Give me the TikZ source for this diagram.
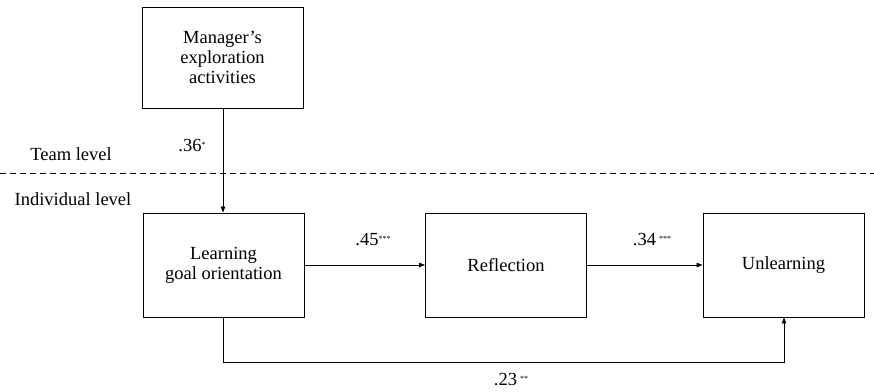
\documentclass[tikz,border=0pt]{standalone}
\usepackage{fontspec}
\setmainfont{Liberation Serif}
\usetikzlibrary{arrows.meta}
\newcommand{\sigstars}[1]{\raisebox{4pt}{\fontsize{8}{8}\selectfont #1}}
\begin{document}
\begin{tikzpicture}[x=1pt,y=-1pt,
  font=\rmfamily\fontsize{18.5}{20}\selectfont,
  box/.style={draw,line width=0.9pt,minimum width=161pt,minimum height=104pt,align=center,inner sep=0pt},
  link/.style={line width=0.8pt,-{Triangle[length=6pt,width=4.5pt]}},
  lbl/.style={inner sep=0pt}]
\useasboundingbox (0,0) rectangle (874,391);
% constructs
\node[box,minimum height=101pt] (mea) at (222.5,57.5) {Manager's\\exploration\\activities};
\node[box] (lgo) at (223.5,265) {Learning\\goal orientation};
\node[box] (ref) at (506,265) {Reflection};
\node[box] (unl) at (783.5,265) {Unlearning};
% level separator
\coordinate (sepL) at (0,173);
\coordinate (sepR) at (874,173);
\draw[line width=0.9pt,dash pattern=on 6pt off 4pt] (sepL) -- (sepR);
\node[lbl] (team) at (71,154) {Team level};
\node[lbl] (ind) at (73,199) {Individual level};
% paths
\draw[link] (mea.south -| 223,0) -- (lgo.north -| 223,0);
\draw[link] (lgo.east) -- (ref.west);
\draw[link] (ref.east) -- (unl.west);
\coordinate (c1) at (223,362);
\coordinate (c2) at (784,362);
\draw[link] (lgo.south -| c1) -- (c1) -- (c2) -- (unl.south -| c2);
% coefficients
\node[lbl] (b1) at (192,146) {.36\sigstars{*}};
\node[lbl] (b2) at (373,240) {.45\sigstars{***}};
\node[lbl] (b3) at (652,240) {.34\,\sigstars{***}};
\node[lbl] (b4) at (511,379) {.23\,\sigstars{**}};
\end{tikzpicture}
\end{document}
